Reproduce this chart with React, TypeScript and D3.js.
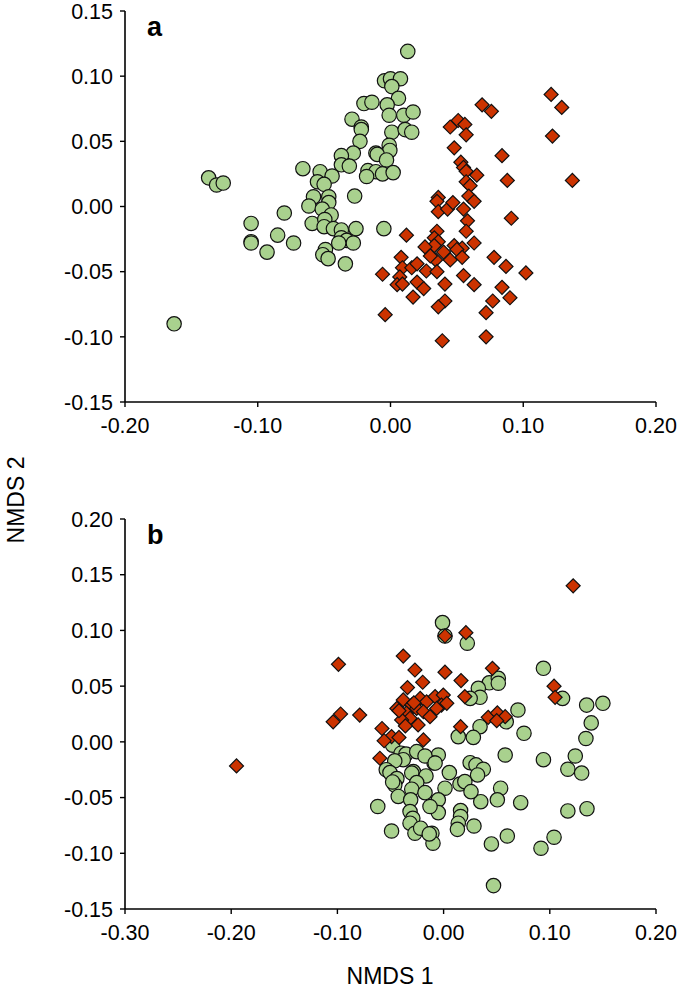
import React from 'react';
import * as d3 from 'd3';

// ---------- Panel a data ----------
const aXTicks = [-0.2, -0.1, 0, 0.1, 0.2];
const aXTickLabels = ['-0.20', '-0.10', '0.00', '0.10', '0.20'];
const aYTicks = [-0.15, -0.1, -0.05, 0, 0.05, 0.1, 0.15];
const aYTickLabels = ['-0.15', '-0.10', '-0.05', '0.00', '0.05', '0.10', '0.15'];

const aGreen: [number, number][] = [
  [0.013, 0.119],
  [-0.0045, 0.0965], [0, 0.098], [0.0075, 0.098], [0.001, 0.092],
  [0.006, 0.083],
  [-0.02, 0.079], [-0.014, 0.08], [-0.0025, 0.078],
  [-0.001, 0.07], [0.01, 0.07], [0.017, 0.0725],
  [-0.029, 0.067],
  [-0.022, 0.061], [-0.022, 0.059],
  [0.001, 0.057], [0.011, 0.059], [0.016, 0.057],
  [-0.023, 0.05],
  [-0.001, 0.047], [-0.0005, 0.043],
  [-0.028, 0.041], [-0.011, 0.041], [-0.01, 0.04], [-0.003, 0.0357],
  [-0.037, 0.039], [-0.037, 0.032], [-0.031, 0.031],
  [-0.066, 0.029],
  [-0.017, 0.0275], [-0.011, 0.0267], [-0.006, 0.025], [0.002, 0.026], [-0.018, 0.023],
  [-0.053, 0.0267], [-0.044, 0.0234], [-0.055, 0.019], [-0.05, 0.017],
  [-0.137, 0.022], [-0.131, 0.0165], [-0.126, 0.018],
  [-0.027, 0.008],
  [-0.058, 0.0075], [-0.0465, 0.0075], [-0.0615, 0.0004], [-0.0465, 0.003], [-0.0514, -0.002], [-0.0447, -0.0065],
  [-0.08, -0.005],
  [-0.059, -0.013], [-0.0495, -0.01], [-0.05, -0.0155], [-0.043, -0.017], [-0.037, -0.018], [-0.026, -0.017],
  [-0.037, -0.024], [-0.033, -0.026], [-0.028, -0.028], [-0.039, -0.028],
  [-0.005, -0.017],
  [-0.105, -0.013],
  [-0.085, -0.022],
  [-0.105, -0.027], [-0.105, -0.028],
  [-0.073, -0.028],
  [-0.093, -0.035],
  [-0.049, -0.033], [-0.051, -0.037], [-0.047, -0.04], [-0.034, -0.044],
  [-0.163, -0.09],
];

const aRed: [number, number][] = [
  [0.121, 0.086], [0.129, 0.076], [0.122, 0.054], [0.137, 0.02],
  [0.069, 0.078], [0.076, 0.073],
  [0.045, 0.061], [0.051, 0.066], [0.056, 0.063], [0.057, 0.055],
  [0.048, 0.045], [0.084, 0.039],
  [0.053, 0.034], [0.055, 0.03], [0.057, 0.027], [0.065, 0.024], [0.057, 0.019], [0.06, 0.016], [0.059, 0.008], [0.063, 0.004],
  [0.088, 0.02], [0.091, -0.009],
  [0.036, 0.007], [0.035, 0.004], [0.036, -0.004], [0.043, -0.002], [0.047, 0.003],
  [0.055, -0.002], [0.058, -0.011], [0.057, -0.019],
  [0.012, -0.022],
  [0.035, -0.019], [0.033, -0.024], [0.036, -0.027], [0.033, -0.03], [0.026, -0.031],
  [0.048, -0.03], [0.054, -0.032], [0.05, -0.033], [0.063, -0.028],
  [0.04, -0.035], [0.045, -0.041], [0.034, -0.041], [0.03, -0.038], [0.054, -0.039],
  [0.008, -0.039], [-0.006, -0.052],
  [0.009, -0.047], [0.016, -0.047], [0.02, -0.044], [0.027, -0.0495], [0.035, -0.05],
  [0.055, -0.053], [0.063, -0.06],
  [0.007, -0.054], [0.005, -0.06], [0.009, -0.0595],
  [0.02, -0.058], [0.025, -0.063], [0.041, -0.0595], [0.017, -0.0695], [0.041, -0.0725], [0.036, -0.077],
  [-0.004, -0.083], [0.072, -0.0815], [0.077, -0.0725],
  [0.078, -0.039], [0.087, -0.046], [0.102, -0.051], [0.084, -0.062], [0.09, -0.07],
  [0.072, -0.1], [0.039, -0.103],
];

// ---------- Panel b data ----------
const bXTicks = [-0.3, -0.2, -0.1, 0, 0.1, 0.2];
const bXTickLabels = ['-0.30', '-0.20', '-0.10', '0.00', '0.10', '0.20'];
const bYTicks = [-0.15, -0.1, -0.05, 0, 0.05, 0.1, 0.15, 0.2];
const bYTickLabels = ['-0.15', '-0.10', '-0.05', '0.00', '0.05', '0.10', '0.15', '0.20'];

const bGreen: [number, number][] = [
  [-0.001, 0.107], [0.0013, 0.095], [0.0223, 0.0885],
  [0.094, 0.066],
  [0.043, 0.053], [0.0515, 0.057], [0.0515, 0.0526], [0.0327, 0.048], [0.0343, 0.04], [0.025, 0.039],
  [0.112, 0.039], [0.1347, 0.033], [0.15, 0.0346], [0.139, 0.017], [0.134, 0.003],
  [0.059, 0.018], [0.07, 0.0286], [0.0757, 0.0077], [0.0343, 0.0136], [0.028, 0.004], [0.0138, 0.0047],
  [0.124, -0.0127], [0.117, -0.0246], [0.13, -0.028], [0.094, -0.016], [0.058, -0.0118],
  [0.025, -0.0187], [0.0305, -0.0207], [0.0374, -0.0246], [0.0054, -0.0276], [0.0154, -0.0378], [0.0013, -0.0416],
  [0.0537, -0.0416], [0.0506, -0.052], [0.0726, -0.0546], [0.035, -0.0537],
  [-0.005, -0.0118], [-0.009, -0.019], [0.032, -0.0297], [0.02, -0.0357], [0.0258, -0.0447],
  [-0.005, -0.052], [-0.005, -0.0635],
  [0.016, -0.0617], [0.016, -0.067], [0.0138, -0.073], [0.013, -0.0785], [0.0286, -0.0755],
  [-0.011, -0.082], [-0.01, -0.091],
  [0.117, -0.062], [0.135, -0.06], [0.06, -0.0845], [0.045, -0.0916], [0.104, -0.0856], [0.0917, -0.0955], [0.047, -0.129],
  [-0.048, -0.003],
  [-0.04, -0.0102], [-0.0354, -0.011], [-0.038, -0.016], [-0.046, -0.017],
  [-0.0253, -0.0088], [-0.0175, -0.0127], [-0.008, -0.019],
  [-0.054, -0.025], [-0.0505, -0.0276], [-0.044, -0.033], [-0.046, -0.0387], [-0.0285, -0.0267], [-0.03, -0.028],
  [-0.0166, -0.0306], [-0.0253, -0.0366], [-0.048, -0.036],
  [-0.0427, -0.049], [-0.03, -0.0425], [-0.031, -0.052], [-0.0175, -0.0456],
  [-0.0128, -0.058], [-0.062, -0.058],
  [-0.0316, -0.0626], [-0.029, -0.0686], [-0.0316, -0.073],
  [-0.049, -0.08], [-0.027, -0.082], [-0.0216, -0.0775], [-0.0135, -0.0826],
];

const bRed: [number, number][] = [
  [0.122, 0.14],
  [-0.195, -0.0216],
  [-0.099, 0.0696], [-0.097, 0.025], [-0.104, 0.018], [-0.079, 0.024],
  [-0.038, 0.077], [-0.027, 0.0645], [0.0013, 0.0625], [-0.0197, 0.0535], [0.0164, 0.055], [-0.034, 0.0487], [0.02, 0.0406],
  [0.021, 0.098], [0.0013, 0.095], [0.046, 0.066], [0.104, 0.05], [0.105, 0.04],
  [0.042, 0.022], [0.0506, 0.026], [0.058, 0.0226], [0.05, 0.019],
  [0.016, 0.0136],
  [-0.038, 0.0376], [-0.03, 0.033], [-0.022, 0.039], [-0.016, 0.036], [-0.008, 0.0406], [-0.0003, 0.042],
  [-0.002, 0.033], [-0.0065, 0.03], [0.003, 0.0346], [-0.044, 0.03], [-0.035, 0.0257], [-0.0254, 0.03],
  [-0.019, 0.027], [-0.0128, 0.0226], [-0.0316, 0.0212], [-0.0395, 0.0197], [-0.024, 0.0152], [-0.036, 0.0143],
  [-0.042, 0.028], [-0.028, 0.035],
  [-0.058, 0.012], [-0.049, 0.0047], [-0.042, 0.004], [-0.056, 0.001], [-0.019, 0.0017],
  [-0.06, -0.0147],
];

const GREEN = '#a9d18e';
const RED = '#cc3300';
const FONT = '"Liberation Sans", Arial, sans-serif';

type PanelProps = {
  left: number;
  right: number;
  top: number;
  bottom: number;
  xDomain: [number, number];
  yDomain: [number, number];
  xTicks: number[];
  xTickLabels: string[];
  yTicks: number[];
  yTickLabels: string[];
  circles: [number, number][];
  diamonds: [number, number][];
  letter: string;
};

function Panel(p: PanelProps) {
  const x = d3.scaleLinear().domain(p.xDomain).range([p.left, p.right]);
  const y = d3.scaleLinear().domain(p.yDomain).range([p.bottom, p.top]);
  const diamond = d3.symbol(d3.symbolSquare, 98)();
  return (
    <g>
      {p.circles.map((d, i) => (
        <circle key={'c' + i} cx={x(d[0])} cy={y(d[1])} r={7.2} fill={GREEN} stroke="#111" strokeWidth={1.2} />
      ))}
      {p.diamonds.map((d, i) => (
        <path
          key={'d' + i}
          d={diamond || ''}
          transform={`translate(${x(d[0])},${y(d[1])}) rotate(45)`}
          fill={RED}
          stroke="#111"
          strokeWidth={1.2}
        />
      ))}
      {/* axes */}
      <line x1={p.left} x2={p.left} y1={p.top} y2={p.bottom} stroke="#000" strokeWidth={1.6} />
      <line x1={p.left} x2={p.right} y1={p.bottom} y2={p.bottom} stroke="#000" strokeWidth={1.6} />
      {p.yTicks.map((t, i) => (
        <g key={'yt' + i}>
          <line x1={p.left - 5} x2={p.left} y1={y(t)} y2={y(t)} stroke="#000" strokeWidth={1.4} />
          <text x={p.left - 12} y={y(t)} dy="0.36em" textAnchor="end" fontFamily={FONT} fontSize={21.5} fill="#000">
            {p.yTickLabels[i]}
          </text>
        </g>
      ))}
      {p.xTicks.map((t, i) => (
        <g key={'xt' + i}>
          <line x1={x(t)} x2={x(t)} y1={p.bottom} y2={p.bottom + 5} stroke="#000" strokeWidth={1.4} />
          <text x={x(t)} y={p.bottom + 23} dy="0.36em" textAnchor="middle" fontFamily={FONT} fontSize={21.5} fill="#000">
            {p.xTickLabels[i]}
          </text>
        </g>
      ))}
      <text x={p.left + 22} y={p.top + 15} dy="0.36em" fontFamily={FONT} fontSize={27} fontWeight="bold" fill="#000">
        {p.letter}
      </text>
    </g>
  );
}

export default function App() {
  return (
    <svg
      width={685}
      height={998}
      viewBox="0 0 685 998"
      style={{ position: 'absolute', left: 0, top: 0, background: '#fff' }}
    >
      <rect x={0} y={0} width={685} height={998} fill="#fff" />
      <Panel
        left={125}
        right={656}
        top={11}
        bottom={402}
        xDomain={[-0.2, 0.2]}
        yDomain={[-0.15, 0.15]}
        xTicks={aXTicks}
        xTickLabels={aXTickLabels}
        yTicks={aYTicks}
        yTickLabels={aYTickLabels}
        circles={aGreen}
        diamonds={aRed}
        letter="a"
      />
      <Panel
        left={125}
        right={656}
        top={519}
        bottom={909}
        xDomain={[-0.3, 0.2]}
        yDomain={[-0.15, 0.2]}
        xTicks={bXTicks}
        xTickLabels={bXTickLabels}
        yTicks={bYTicks}
        yTickLabels={bYTickLabels}
        circles={bGreen}
        diamonds={bRed}
        letter="b"
      />
      <text
        transform="translate(16,500) rotate(-90)"
        textAnchor="middle"
        dy="0.36em"
        fontFamily={FONT}
        fontSize={23}
        fill="#000"
      >
        NMDS 2
      </text>
      <text x={390} y={976} textAnchor="middle" dy="0.36em" fontFamily={FONT} fontSize={23} fill="#000">
        NMDS 1
      </text>
    </svg>
  );
}
